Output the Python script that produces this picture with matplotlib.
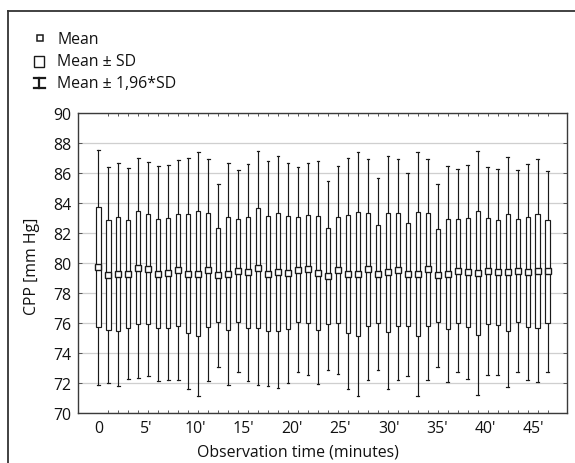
import matplotlib
matplotlib.use("Agg")
import matplotlib.pyplot as plt
import numpy as np
from matplotlib.lines import Line2D
from matplotlib.patches import Rectangle

# ---- data ----
minutes = list(range(46))
means = [79.72, 79.20, 79.26, 79.30, 79.70, 79.61, 79.31, 79.36, 79.55, 79.31,
         79.30, 79.53, 79.20, 79.30, 79.50, 79.38, 79.68, 79.30, 79.42, 79.37,
         79.57, 79.61, 79.37, 79.17, 79.55, 79.31, 79.28, 79.58, 79.27, 79.38,
         79.56, 79.25, 79.28, 79.58, 79.18, 79.27, 79.50, 79.39, 79.35, 79.49,
         79.40, 79.39, 79.50, 79.42, 79.50, 79.45]
sds = [3.99, 3.66, 3.79, 3.59, 3.74, 3.65, 3.66, 3.66, 3.75, 3.94,
       4.15, 3.78, 3.11, 3.77, 3.43, 3.69, 3.99, 3.83, 3.93, 3.74,
       3.49, 3.60, 3.79, 3.20, 3.54, 3.93, 4.13, 3.77, 3.26, 3.97,
       3.75, 3.44, 4.13, 3.77, 3.10, 3.68, 3.46, 3.64, 4.15, 3.54,
       3.50, 3.91, 3.43, 3.67, 3.80, 3.41]
tick_minutes = [0, 5, 10, 15, 20, 25, 30, 35, 40, 45]
tick_labels = ["0", "5'", "10'", "15'", "20'", "25'", "30'", "35'", "40'", "45'"]
legend_labels = ["Mean", "Mean \u00b1 SD", "Mean \u00b1 1,96*SD"]

W, H = 575, 464
FS = 11.4
plt.rcParams['font.family'] = ['Open Sans', 'DejaVu Sans']
fig = plt.figure(figsize=(W / 100, H / 100), dpi=100)

def fx(x):
    return x / W

def fy(y):
    return 1 - y / H

ax_l, ax_r, ax_t, ax_b = 78.3, 566.7, 114.0, 414.3
ax = fig.add_axes([fx(ax_l), fy(ax_b), (ax_r - ax_l) / W, (ax_b - ax_t) / H])

m = np.array(means)
s = np.array(sds)
x = np.array(minutes, dtype=float)
bw = 0.45
ink = '#1a1a1a'

for xi, mi, si in zip(x, m, s):
    # whiskers (mean +/- 1.96 SD)
    ax.plot([xi, xi], [mi + si, mi + 1.96 * si], color=ink, lw=0.85, zorder=3)
    ax.plot([xi, xi], [mi - si, mi - 1.96 * si], color=ink, lw=0.85, zorder=3)
    ax.plot([xi - 0.14, xi + 0.14], [mi + 1.96 * si] * 2, color=ink, lw=0.85, zorder=3)
    ax.plot([xi - 0.14, xi + 0.14], [mi - 1.96 * si] * 2, color=ink, lw=0.85, zorder=3)
    # box (mean +/- SD)
    ax.add_patch(Rectangle((xi - bw / 2, mi - si), bw, 2 * si, facecolor='white',
                           edgecolor=ink, lw=0.85, zorder=4))

ax.plot(x, m, linestyle='none', marker='s', ms=3.8, mfc='white', mec=ink, mew=1.0, zorder=5)

ax.set_xlim(-2.0, 46.9)
ax.set_ylim(70, 90)
ax.set_yticks(np.arange(70, 91, 2))
ax.set_xticks([t * 0.969 for t in tick_minutes])
ax.set_xticklabels(tick_labels)
ax.set_xticks(x, minor=True)
ax.tick_params(axis='x', which='major', length=0, pad=5, labelsize=FS, colors='#111111')
ax.tick_params(axis='x', which='minor', direction='in', length=2.5, top=True, bottom=True,
               width=0.7, color='#555555')
ax.tick_params(axis='y', which='major', direction='in', length=3, left=True, right=True,
               labelsize=FS, pad=5, width=0.7, color='#555555', labelcolor='#111111')
ax.grid(axis='y', color='#cfcfcf', lw=0.9, zorder=0)
ax.set_axisbelow(True)
for sp in ax.spines.values():
    sp.set_color('#3a3a3a')
    sp.set_linewidth(1.0)

fig.text(fx(32), fy(266), "CPP [mm Hg]", rotation=90, ha='center', va='center',
         fontsize=FS, color='#111111')
fig.text(fx(297.5), fy(453), "Observation time (minutes)", ha='center', va='center',
         fontsize=FS, color='#111111')

# outer frame (left and top edges visible)
fig.add_artist(Line2D([fx(8.3), fx(8.3)], [fy(11.7), fy(470)], color='#333333', lw=1.3))
fig.add_artist(Line2D([fx(8.3), fx(580)], [fy(11.7), fy(11.7)], color='#333333', lw=1.3))

# legend
tx = fx(57.3)
fig.add_artist(Line2D([fx(40.3)], [fy(39.3)], marker='s', ms=4.3, mfc='white', mec=ink, mew=1.1,
                      linestyle='none'))
fig.add_artist(Rectangle((fx(33.5), fy(67.5)), 10.5 / W, 10.5 / H, transform=fig.transFigure,
                         facecolor='white', edgecolor=ink, lw=1.0))
wx = 39.2
fig.add_artist(Line2D([fx(wx), fx(wx)], [fy(78.5), fy(89.0)], color=ink, lw=1.6))
fig.add_artist(Line2D([fx(wx - 5.3), fx(wx + 5.3)], [fy(78.5), fy(78.5)], color=ink, lw=1.6))
fig.add_artist(Line2D([fx(wx - 5.3), fx(wx + 5.3)], [fy(89.0), fy(89.0)], color=ink, lw=1.6))
for lbl, yy in zip(legend_labels, [39.5, 62.0, 84.0]):
    fig.text(tx, fy(yy), lbl, ha='left', va='center', fontsize=FS, color='#111111')

fig.savefig("out.png", dpi=100)
